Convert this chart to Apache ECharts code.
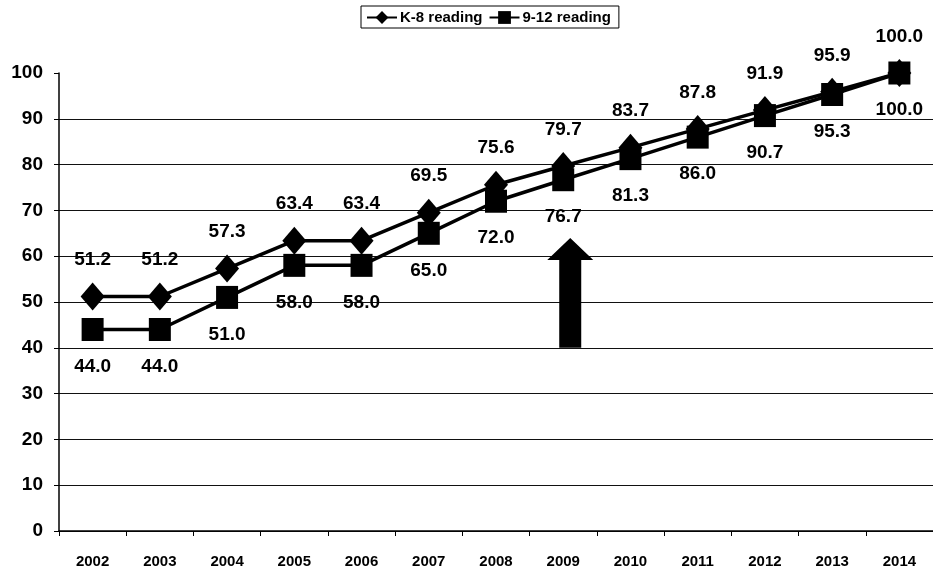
<!DOCTYPE html>
<html>
<head>
<meta charset="utf-8">
<script src="https://cdn.jsdelivr.net/npm/echarts@6/dist/echarts.min.js"></script>
<style>
  html, body { margin: 0; padding: 0; background: #fff; }
  #chart { width: 933px; height: 569px; }
</style>
</head>
<body>
<div id="chart"></div>
<script>
// Reading targets by school year
const years = ['2002','2003','2004','2005','2006','2007','2008','2009','2010','2011','2012','2013','2014'];
const k8Reading = [51.2, 51.2, 57.3, 63.4, 63.4, 69.5, 75.6, 79.7, 83.7, 87.8, 91.9, 95.9, 100.0];
const hsReading = [44.0, 44.0, 51.0, 58.0, 58.0, 65.0, 72.0, 76.7, 81.3, 86.0, 90.7, 95.3, 100.0];
const yTicks = [0, 10, 20, 30, 40, 50, 60, 70, 80, 90, 100];
// Upward arrow marking 2009: [category, from, to]
const arrowMark = [['2009', 40, 64]];

const font = 'Liberation Sans, Arial, sans-serif';
const chart = echarts.init(document.getElementById('chart'), null, { renderer: 'canvas' });

// gridlines for every tick except the top one
const gridColors = yTicks.map((v, i) => i === yTicks.length - 1 ? 'rgba(0,0,0,0)' : '#111');

const labelStyle = (pos, dist) => ({
  show: true,
  position: pos,
  distance: dist,
  color: '#000',
  fontFamily: font,
  fontWeight: 'bold',
  fontSize: 19,
  formatter: (p) => p.value.toFixed(1)
});

chart.setOption({
  animation: false,
  backgroundColor: '#fff',
  legend: {
    top: 6,
    left: 361,
    itemWidth: 30,
    itemHeight: 16,
    itemGap: 6,
    padding: [4, 8, 3, 5],
    borderColor: '#000',
    borderWidth: 1,
    textStyle: { color: '#000', fontFamily: font, fontWeight: 'bold', fontSize: 15, padding: [0, 0, 0, -2] },
    data: ['K-8 reading', '9-12 reading']
  },
  grid: { left: 59, right: -6, top: 73, bottom: 38, containLabel: false },
  xAxis: {
    type: 'category',
    data: years,
    boundaryGap: true,
    axisLine: { lineStyle: { color: '#000', width: 1.5 } },
    axisTick: { show: true, length: 5, lineStyle: { color: '#000' } },
    axisLabel: { color: '#000', fontFamily: font, fontWeight: 'bold', fontSize: 15, margin: 23 },
    splitLine: { show: false }
  },
  yAxis: {
    type: 'value',
    min: 0,
    max: 100,
    interval: 10,
    axisLine: { show: true, lineStyle: { color: '#000', width: 1.5 } },
    axisTick: { show: true, length: 5, lineStyle: { color: '#000' } },
    axisLabel: { color: '#000', fontFamily: font, fontWeight: 'bold', fontSize: 19, margin: 16 },
    splitLine: { show: true, lineStyle: { color: gridColors, width: 1 } }
  },
  series: [
    {
      name: 'K-8 reading',
      type: 'line',
      data: k8Reading,
      clip: false,
      symbol: 'diamond',
      symbolSize: [24, 28],
      itemStyle: { color: '#000' },
      lineStyle: { color: '#000', width: 3.5 },
      label: labelStyle('top', 13),
      z: 3
    },
    {
      name: '9-12 reading',
      type: 'line',
      data: hsReading,
      clip: false,
      symbol: 'rect',
      symbolSize: [22, 23],
      itemStyle: { color: '#000' },
      lineStyle: { color: '#000', width: 3.5 },
      label: labelStyle('bottom', 16),
      z: 4
    },
    {
      name: 'arrow',
      type: 'custom',
      data: arrowMark,
      silent: true,
      z: 5,
      renderItem: (params, api) => {
        const base = api.coord([api.value(0), api.value(1)]);
        const tip = api.coord([api.value(0), api.value(2)]);
        const cx = base[0] + 7;
        const shaft = 11, head = 23, headLen = 22;
        const neck = tip[1] + headLen;
        return {
          type: 'polygon',
          shape: {
            points: [
              [cx - shaft, base[1]], [cx - shaft, neck], [cx - head, neck],
              [cx, tip[1]],
              [cx + head, neck], [cx + shaft, neck], [cx + shaft, base[1]]
            ]
          },
          style: { fill: '#000' }
        };
      }
    }
  ]
});
</script>
</body>
</html>
